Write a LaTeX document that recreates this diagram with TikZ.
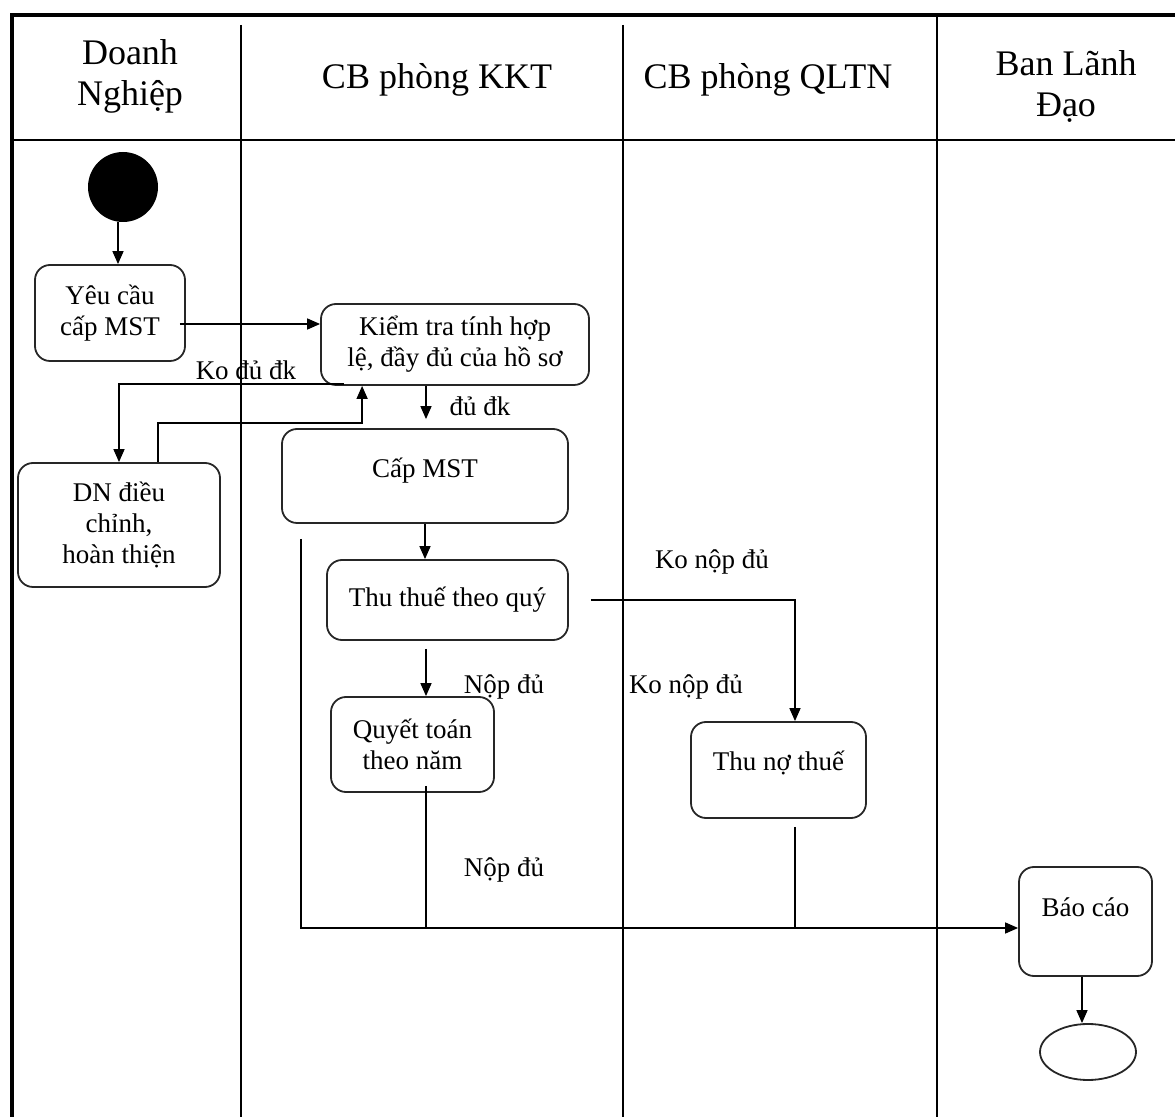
\documentclass[tikz,border=0pt]{standalone}
\usepackage{fontspec}
\setmainfont{Liberation Serif}
\usetikzlibrary{arrows.meta,shapes.geometric,calc}
\begin{document}
\begin{tikzpicture}[x=0.5pt,y=-0.5pt,
  actbox/.style={draw=black!85,line width=0.9pt,rounded corners=7.5pt,align=center,inner sep=2pt,font=\fontsize{13.5}{15.5}\selectfont},
  hdr/.style={align=center,font=\fontsize{18}{20.5}\selectfont},
  lbl/.style={font=\fontsize{13.5}{15.5}\selectfont,inner sep=0pt},
  conn/.style={line width=0.75pt},
  arr/.style={conn,-{Triangle[length=6.5pt,width=5.5pt]}},
  framel/.style={line width=2.2pt},
  lane/.style={line width=0.9pt}]

\useasboundingbox (0,0) rectangle (1175,1117);
% frame and swimlanes
\draw[framel] (12,1117) -- (12,15) -- (1175,15);
\draw[lane] (12,140) -- (1175,140);
\draw[lane] (241,25) -- (241,1117);
\draw[lane] (623,25) -- (623,1117);
\draw[lane] (937,15) -- (937,1117);

% headers
\node[hdr] (h1) at (130,76) {Doanh\\Nghiệp};
\node[hdr] (h2) at (437,80) {CB phòng KKT};
\node[hdr] (h3) at (768,80) {CB phòng QLTN};
\node[hdr] (h4) at (1066,86) {Ban Lãnh\\Đạo};

% nodes
\node[circle,fill=black,minimum size=35pt,inner sep=0pt] (start) at (123,187) {};
\node[actbox,minimum width=75pt,minimum height=48pt] (yc) at (110,313) {Yêu cầu\\cấp MST};
\node[actbox,minimum width=134pt,minimum height=40.5pt] (kt) at (455,344.5) {Kiểm tra tính hợp\\lệ, đầy đủ của hồ sơ};
\node[actbox,minimum width=101pt,minimum height=62pt] (dn) at (119,525) {DN điều\\chỉnh,\\hoàn thiện};
\node[actbox,minimum width=143pt,minimum height=47pt,text height=9.5pt,text depth=8pt] (cap) at (425,476) {Cấp MST};
\node[actbox,minimum width=120.5pt,minimum height=40pt] (tt) at (447.5,600) {Thu thuế theo quý};
\node[actbox,minimum width=81.5pt,minimum height=47.5pt] (qt) at (412.5,744.5) {Quyết toán\\theo năm};
\node[actbox,minimum width=87.5pt,minimum height=48pt,text height=9.5pt,text depth=9pt] (tn) at (778.5,770) {Thu nợ thuế};
\node[actbox,minimum width=66.5pt,minimum height=54.5pt,text height=9.5pt,text depth=14pt] (bc) at (1085.5,921.5) {Báo cáo};
\node[ellipse,draw=black!85,line width=0.9pt,minimum width=48pt,minimum height=28pt,inner sep=0pt] (end) at (1088,1052) {};

% labels
\node[lbl] (l1) at (246,370) {Ko đủ đk};
\node[lbl] (l2) at (480,406) {đủ đk};
\node[lbl] (l3) at (712,562) {Ko nộp đủ};
\node[lbl] (l4) at (504,687) {Nộp đủ};
\node[lbl] (l5) at (686,687) {Ko nộp đủ};
\node[lbl] (l6) at (504,870) {Nộp đủ};

% connectors
\coordinate (c0) at ($(start.south)+(-5,0)$);
\draw[arr] (c0) -- (c0 |- yc.north);

\coordinate (c1) at ($(yc.east)+(-6,11)$);
\draw[arr] (c1) -- (c1 -| kt.west);

\coordinate (c2) at ($(kt.south west)+(24,-2)$);
\draw[arr] (c2) -| (dn.north);

\coordinate (c3) at ($(dn.north)+(39,0)$);
\coordinate (c3b) at ($(kt.south west)+(42,37)$);
\draw[arr] (c3) |- (c3b) -- (c3b |- kt.south);

\coordinate (c4) at ($(kt.south)+(-29,0)$);
\coordinate (c4b) at ($(c4 |- cap.north)+(0,-9)$);
\draw[arr] (c4) -- (c4b);

\draw[arr] (cap.south) -- (cap.south |- tt.north);

\coordinate (c5) at ($(tt.south)+(-21.5,8)$);
\draw[arr] (c5) -- (c5 |- qt.north);

\coordinate (c6) at ($(tt.east)+(22,0)$);
\coordinate (c6b) at ($(tn.north)+(16.5,0)$);
\draw[arr] (c6) -| (c6b);

\coordinate (c7) at ($(cap.south west)+(20,15)$);
\coordinate (c7b) at ($(bc.west)+(0,6.5)$);
\draw[arr] (c7) |- (c7b);

\coordinate (c8) at ($(qt.south)+(13.5,-7)$);
\draw[conn] (c8) -- (c8 |- c7b);

\coordinate (c9) at ($(tn.south)+(16.5,8)$);
\draw[conn] (c9) -- (c9 |- c7b);

\coordinate (c10) at ($(bc.south)+(-3.5,0)$);
\draw[arr] (c10) -- (c10 |- end.north);
\end{tikzpicture}
\end{document}
